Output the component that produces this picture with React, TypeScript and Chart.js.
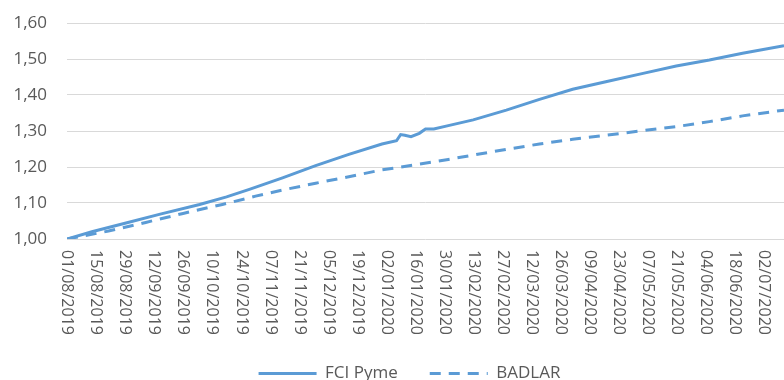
import React, { useEffect, useRef } from "react";
import { Chart, registerables } from "chart.js";

Chart.register(...registerables);

// Tick labels (one every 14 days from 01/08/2019)
const dateLabels = [
  "01/08/2019", "15/08/2019", "29/08/2019", "12/09/2019", "26/09/2019",
  "10/10/2019", "24/10/2019", "07/11/2019", "21/11/2019", "05/12/2019",
  "19/12/2019", "02/01/2020", "16/01/2020", "30/01/2020", "13/02/2020",
  "27/02/2020", "12/03/2020", "26/03/2020", "09/04/2020", "23/04/2020",
  "07/05/2020", "21/05/2020", "04/06/2020", "18/06/2020", "02/07/2020",
];
const tickStepDays = 14;
const axisMaxDays = 346;

// FCI Pyme: days since 01/08/2019 and index value
const fciDays = [0, 12, 28, 45, 64, 77, 88, 104, 120, 136, 152, 159, 161, 163, 166, 170, 173, 177, 184, 196, 212, 228, 244, 260, 278, 294, 310, 326, 346];
const fciValues = [1.0, 1.02, 1.0436, 1.069, 1.096, 1.117, 1.138, 1.17, 1.204, 1.235, 1.264, 1.273, 1.29, 1.288, 1.284, 1.2935, 1.3056, 1.3056, 1.315, 1.331, 1.358, 1.388, 1.416, 1.437, 1.46, 1.4806, 1.497, 1.516, 1.537];

// BADLAR: days since 01/08/2019 and index value
const badlarDays = [0, 20, 38, 56, 75, 91, 104, 120, 136, 152, 168, 184, 196, 212, 228, 244, 260, 278, 294, 310, 326, 346];
const badlarValues = [1.0, 1.022, 1.046, 1.071, 1.096, 1.119, 1.136, 1.155, 1.173, 1.192, 1.206, 1.221, 1.233, 1.249, 1.264, 1.277, 1.288, 1.301, 1.312, 1.326, 1.342, 1.358];

const yMin = 1.0;
const yMax = 1.6;
const yStep = 0.1;

const BLUE = "#5B9BD5";
const TEXT = "#595959";
const GRID = "#D9D9D9";
const FONT = "'Open Sans', 'Liberation Sans', sans-serif";
const DASH = [11, 8];

const rotatedXLabels = {
  id: "rotatedXLabels",
  afterDraw(chart: any) {
    const xs = chart.scales.x;
    const ctx = chart.ctx;
    const top = chart.chartArea.bottom + 11;
    ctx.save();
    ctx.fillStyle = TEXT;
    ctx.font = `16px ${FONT}`;
    ctx.textAlign = "left";
    ctx.textBaseline = "middle";
    xs.ticks.forEach((t: any, i: number) => {
      const label = dateLabels[i];
      if (label === undefined) return;
      const x = xs.getPixelForTick(i);
      ctx.save();
      ctx.translate(x, top);
      ctx.rotate(Math.PI / 2);
      ctx.fillText(label, 0, 0);
      ctx.restore();
    });
    ctx.restore();
  },
};

const lineLegend = {
  id: "lineLegend",
  afterDraw(chart: any) {
    const ctx = chart.ctx;
    const sample = 58;
    const gap = 8.5;
    const itemGap = 32;
    ctx.save();
    ctx.font = `17px ${FONT}`;
    const items = chart.data.datasets.map((ds: any) => ({
      text: ds.label,
      dash: ds.borderDash || [],
      color: ds.borderColor,
      width: ds.borderWidth,
      textW: ctx.measureText(ds.label).width,
    }));
    const total = items.reduce((s: number, it: any) => s + sample + gap + it.textW, 0) + itemGap * (items.length - 1);
    const centerX = (35 + chart.width) / 2;
    const y = chart.chartArea.bottom + 134.5;
    let x = centerX - total / 2;
    items.forEach((it: any) => {
      ctx.beginPath();
      ctx.setLineDash(it.dash);
      ctx.lineCap = "butt";
      ctx.strokeStyle = it.color;
      ctx.lineWidth = it.width;
      ctx.moveTo(x, y);
      ctx.lineTo(x + sample, y);
      ctx.stroke();
      ctx.setLineDash([]);
      ctx.fillStyle = TEXT;
      ctx.textAlign = "left";
      ctx.textBaseline = "middle";
      ctx.fillText(it.text, x + sample + gap, y);
      x += sample + gap + it.textW + itemGap;
    });
    ctx.restore();
  },
};

export default function App() {
  const canvasRef = useRef<HTMLCanvasElement | null>(null);

  useEffect(() => {
    const canvas = canvasRef.current;
    if (!canvas) return;
    const chart = new Chart(canvas, {
      type: "line",
      data: {
        datasets: [
          {
            label: "FCI Pyme",
            data: fciDays.map((d, i) => ({ x: d, y: fciValues[i] })),
            borderColor: BLUE,
            backgroundColor: BLUE,
            borderWidth: 3,
            pointRadius: 0,
            tension: 0,
            fill: false,
          },
          {
            label: "BADLAR",
            data: badlarDays.map((d, i) => ({ x: d, y: badlarValues[i] })),
            borderColor: BLUE,
            backgroundColor: BLUE,
            borderWidth: 3,
            borderDash: DASH,
            pointRadius: 0,
            tension: 0,
            fill: false,
          },
        ],
      },
      options: {
        responsive: false,
        animation: false,
        layout: { padding: { left: 0, right: 0, top: 23, bottom: 0 } },
        scales: {
          x: {
            type: "linear",
            min: 0,
            max: axisMaxDays,
            grid: { display: false },
            border: { display: false },
            ticks: { display: false },
            afterBuildTicks: (scale: any) => {
              scale.ticks = dateLabels.map((_, i) => ({ value: i * tickStepDays }));
            },
            afterFit: (scale: any) => {
              scale.height = 141;
            },
          },
          y: {
            min: yMin,
            max: yMax,
            grid: {
              color: GRID,
              lineWidth: 1,
              drawTicks: true,
              tickLength: 17,
              tickColor: "rgba(0,0,0,0)",
            },
            border: { display: false },
            ticks: {
              stepSize: yStep,
              padding: 3,
              color: TEXT,
              font: { family: FONT, size: 17 },
              callback: (v: any) => Number(v).toFixed(2).replace(".", ","),
            },
            afterFit: (scale: any) => {
              scale.width = 67;
            },
          },
        },
        plugins: {
          legend: { display: false },
          tooltip: { enabled: false },
        },
      },
      plugins: [rotatedXLabels, lineLegend],
    } as any);
    return () => chart.destroy();
  }, []);

  return (
    <div style={{ position: "fixed", left: 0, top: 0, width: 784, height: 380, overflow: "hidden", background: "#fff" }}>
      <canvas ref={canvasRef} width={784} height={380} style={{ display: "block" }} />
    </div>
  );
}
